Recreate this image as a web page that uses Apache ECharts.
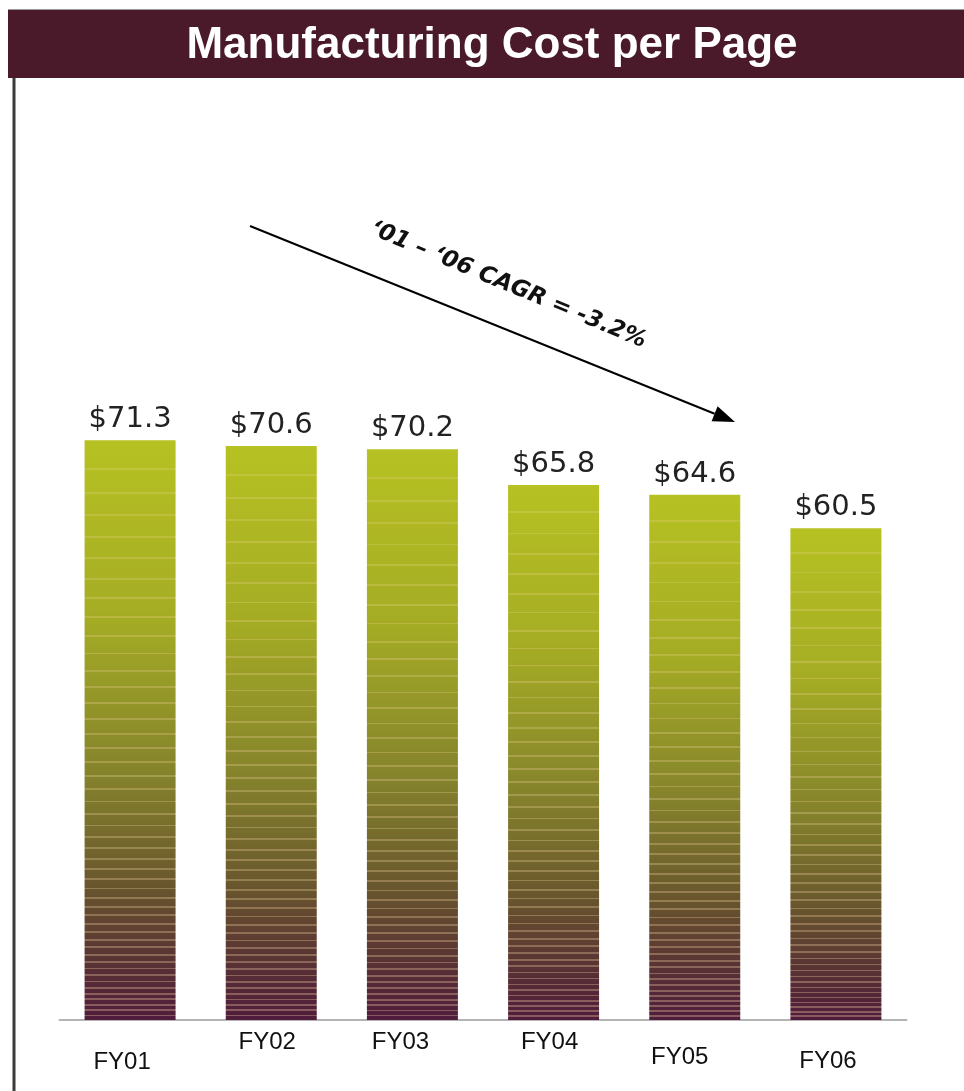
<!DOCTYPE html>
<html>
<head>
<meta charset="utf-8">
<script src="https://cdn.jsdelivr.net/npm/echarts@6/dist/echarts.min.js"></script>
<style>
html,body{margin:0;padding:0;background:#fff;}
#chart{width:964px;height:1091px;}
</style>
</head>
<body>
<div id="chart"></div>
<script>
// ---- data ----
var chartTitle = 'Manufacturing Cost per Page';
var categories = ['FY01', 'FY02', 'FY03', 'FY04', 'FY05', 'FY06'];
var costValues = [71.3, 70.6, 70.2, 65.8, 64.6, 60.5];
var cagrText = '\u201801 \u2013 \u201806 CAGR = -3.2%';

// ---- style helpers ----
var labelDx = [-8, -4, -12, -4, -15, -8];   // horizontal nudge of tick labels (px)
var labelDy = [20, 0, 0, 0, 15, 19];        // vertical nudge of tick labels (px)

function lerp(a, b, t) { return a + (b - a) * t; }
var baseStops = [
  [0.00, [182, 193, 34]],
  [0.30, [165, 173, 36]],
  [0.58, [132, 130, 44]],
  [0.76, [106, 88, 45]],
  [0.90, [88, 50, 52]],
  [1.00, [80, 28, 60]]
];
function baseColor(t) {
  for (var i = 1; i < baseStops.length; i++) {
    if (t <= baseStops[i][0]) {
      var a = baseStops[i - 1], b = baseStops[i];
      var k = (t - a[0]) / (b[0] - a[0]);
      return [lerp(a[1][0], b[1][0], k), lerp(a[1][1], b[1][1], k), lerp(a[1][2], b[1][2], k)];
    }
  }
  return baseStops[baseStops.length - 1][1];
}
function rgb(c) { return 'rgb(' + Math.round(c[0]) + ',' + Math.round(c[1]) + ',' + Math.round(c[2]) + ')'; }
function lighten(c, f) { return [lerp(c[0], 255, f), lerp(c[1], 220, f), lerp(c[2], 170, f)]; }
function stripedGradient() {
  var stops = [{offset: 0, color: rgb(baseColor(0))}];
  var t = 0.05, w = 0.0016;
  while (t < 0.995) {
    var f = 0.18 + 0.14 * t;
    stops.push({offset: t - w, color: rgb(baseColor(t - w))});
    stops.push({offset: t - w, color: rgb(lighten(baseColor(t), f))});
    stops.push({offset: t + w, color: rgb(lighten(baseColor(t), f))});
    stops.push({offset: t + w, color: rgb(baseColor(t + w))});
    t += 0.042 * (1 - 0.8 * t);
  }
  stops.push({offset: 1, color: rgb(baseColor(1))});
  return {type: 'linear', x: 0, y: 0, x2: 0, y2: 1, colorStops: stops};
}

var rich = {};
categories.forEach(function (c, i) {
  var dx = labelDx[i];
  rich['s' + i] = {
    fontFamily: '"Liberation Sans", Arial, sans-serif',
    fontSize: 24,
    color: '#111',
    padding: [labelDy[i] + 2, dx < 0 ? -2 * dx : 0, 0, dx > 0 ? 2 * dx : 0]
  };
});

// arrow geometry (annotation)
var arrowStart = [250, 226], arrowEnd = [735, 422];
var ax = arrowEnd[0] - arrowStart[0], ay = arrowEnd[1] - arrowStart[1];
var alen = Math.sqrt(ax * ax + ay * ay), ux = ax / alen, uy = ay / alen;
var headLen = 22, headHalf = 8;
var hb = [arrowEnd[0] - ux * headLen, arrowEnd[1] - uy * headLen];
var angle = Math.atan2(ay, ax);

var chart = echarts.init(document.getElementById('chart'), null, {renderer: 'canvas'});
chart.setOption({
  backgroundColor: '#ffffff',
  animation: false,
  grid: {left: 59.5, right: 57.5, top: 207, bottom: 71, containLabel: false},
  xAxis: {
    type: 'category',
    data: categories,
    axisTick: {show: false},
    axisLine: {lineStyle: {color: '#b4b4b4', width: 2}},
    axisLabel: {
      margin: 8,
      interval: 0,
      formatter: function (v, i) { return '{s' + i + '|' + v + '}'; },
      rich: rich
    }
  },
  yAxis: {type: 'value', min: 0, max: 100, show: false, splitLine: {show: false}},
  series: [{
    type: 'bar',
    data: costValues,
    barWidth: 91,
    itemStyle: {color: stripedGradient()},
    label: {
      show: true,
      position: 'top',
      distance: 6,
      fontFamily: '"DejaVu Sans", Verdana, sans-serif',
      fontSize: 29,
      color: '#222',
      formatter: function (p) { return '$' + p.value.toFixed(1); }
    }
  }],
  graphic: [
    {type: 'line', shape: {x1: 8, y1: 9.5, x2: 964, y2: 9.5}, style: {stroke: '#9a9a9a', lineWidth: 1}},
    {type: 'rect', shape: {x: 8, y: 10, width: 956, height: 68}, style: {fill: '#4a1a2a'}},
    {type: 'line', shape: {x1: 14, y1: 78, x2: 14, y2: 1091}, style: {stroke: '#3a3a3a', lineWidth: 3}},
    {type: 'text', x: 492, y: 46, style: {
      text: chartTitle, fill: '#ffffff', align: 'center', verticalAlign: 'middle',
      font: 'bold 44px "Liberation Sans", Arial, sans-serif'
    }},
    {type: 'line', shape: {x1: arrowStart[0], y1: arrowStart[1], x2: hb[0], y2: hb[1]}, style: {stroke: '#000', lineWidth: 2}},
    {type: 'polygon', shape: {points: [
      arrowEnd,
      [hb[0] - uy * headHalf, hb[1] + ux * headHalf],
      [hb[0] + uy * headHalf, hb[1] - ux * headHalf]
    ]}, style: {fill: '#000'}},
    {type: 'text', x: 508, y: 285, rotation: -angle - 0.01, originX: 0, originY: 0, style: {
      text: cagrText, fill: '#111', align: 'center', verticalAlign: 'middle',
      font: 'italic bold 23px "DejaVu Sans", Arial, sans-serif'
    }}
  ]
});
</script>
</body>
</html>
